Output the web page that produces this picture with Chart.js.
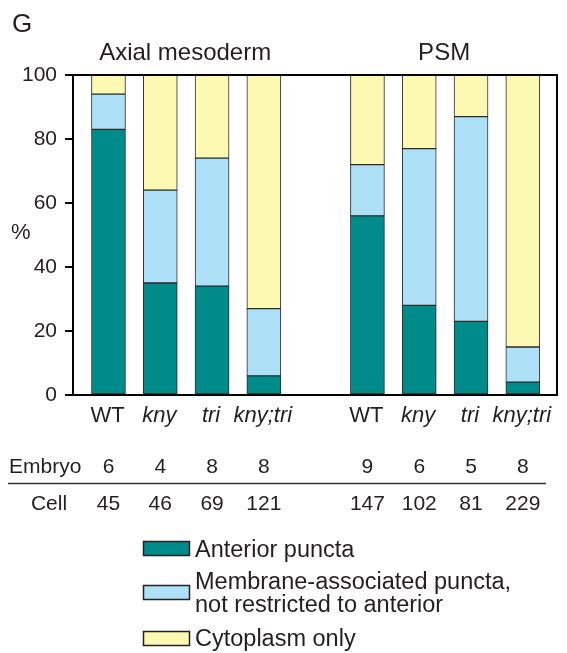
<!DOCTYPE html>
<html>
<head>
<meta charset="utf-8">
<script src="https://cdn.jsdelivr.net/npm/chart.js@4.4.1/dist/chart.umd.min.js"></script>
<style>
  html, body { margin: 0; padding: 0; background: #fff; }
  canvas { display: block; }
</style>
</head>
<body>
<canvas id="chart" width="567" height="653"></canvas>
<script>
// Localisation of the Wnt/PCP reporter, % of cells per class
const panelLetter = 'G';
const groupNames = ['Axial mesoderm', 'PSM'];
const barGroup = [0, 0, 0, 0, 1, 1, 1, 1];
const genotypes = ['WT', 'kny', 'tri', 'kny;tri', 'WT', 'kny', 'tri', 'kny;tri'];
const anteriorPuncta = [83, 35, 34, 6, 56, 28, 23, 4];
const membranePuncta = [11, 29, 40, 21, 16, 49, 64, 11];
const cytoplasmOnly = [6, 36, 26, 73, 28, 23, 13, 85];
const embryoCounts = [6, 4, 8, 8, 9, 6, 5, 8];
const cellCounts = [45, 46, 69, 121, 147, 102, 81, 229];
const yTicks = [0, 20, 40, 60, 80, 100];
const seriesNames = ['Anterior puncta', 'Membrane-associated puncta,\nnot restricted to anterior', 'Cytoplasm only'];

const FONT = '"Liberation Sans", Arial, Helvetica, sans-serif';
const INK = '#231f20';
const COLORS = ['#008b8b', '#aee0f8', '#fdf8b2'];

// one empty slot separates the two tissue groups
const barPos = genotypes.map((g, i) => i + barGroup[i]);

function series(values) {
  return values.map((v, i) => ({ x: barPos[i], y: v }));
}

const datasets = [anteriorPuncta, membranePuncta, cytoplasmOnly].map((vals, k) => ({
  label: seriesNames[k],
  data: series(vals),
  backgroundColor: COLORS[k],
  borderColor: '#2b2b2b',
  borderWidth: 1,
  borderSkipped: false,
  barThickness: 34
}));

const annotations = {
  id: 'annotations',
  afterDraw(chart) {
    const ctx = chart.ctx;
    const xs = chart.scales.x;
    const area = chart.chartArea;
    ctx.save();
    ctx.fillStyle = INK;
    ctx.strokeStyle = '#000';

    // frame around the plot
    ctx.lineWidth = 2;
    ctx.strokeRect(area.left, area.top, area.right - area.left, area.bottom - area.top);

    // panel letter
    ctx.textAlign = 'left';
    ctx.textBaseline = 'alphabetic';
    ctx.font = '26px ' + FONT;
    ctx.fillText(panelLetter, 12, 32);

    // group titles
    ctx.font = '24px ' + FONT;
    ctx.textAlign = 'center';
    groupNames.forEach((name, g) => {
      const px = barPos.filter((p, i) => barGroup[i] === g).map(p => xs.getPixelForValue(p));
      const cx = (Math.min(...px) + Math.max(...px)) / 2;
      ctx.fillText(name, cx - 1, 60);
    });

    // y axis title
    ctx.font = '22px ' + FONT;
    ctx.textAlign = 'left';
    ctx.fillText('%', 11, 239);

    // genotype labels
    ctx.textAlign = 'center';
    genotypes.forEach((g, i) => {
      ctx.font = (g === 'WT' ? '' : 'italic ') + '22px ' + FONT;
      ctx.fillText(g, xs.getPixelForValue(barPos[i]) - 1, 422);
    });

    // counts table
    ctx.font = '21px ' + FONT;
    ctx.textAlign = 'left';
    ctx.fillText('Embryo', 9, 473);
    ctx.textAlign = 'center';
    ctx.fillText('Cell', 49, 510);
    embryoCounts.forEach((n, i) => ctx.fillText(String(n), xs.getPixelForValue(barPos[i]), 473));
    cellCounts.forEach((n, i) => ctx.fillText(String(n), xs.getPixelForValue(barPos[i]), 510));
    ctx.lineWidth = 1.5;
    ctx.strokeStyle = '#333';
    ctx.beginPath();
    ctx.moveTo(8, 483.5);
    ctx.lineTo(546, 483.5);
    ctx.stroke();

    // legend
    const boxes = [541, 585, 631];
    const textLines = [[557], [589, 612], [646]];
    ctx.font = '23.5px ' + FONT;
    ctx.textAlign = 'left';
    chart.data.datasets.forEach((ds, k) => {
      ctx.fillStyle = ds.backgroundColor;
      ctx.fillRect(143, boxes[k], 47, 15);
      ctx.lineWidth = 1.5;
      ctx.strokeStyle = '#222';
      ctx.strokeRect(143.5, boxes[k] + 0.5, 46, 14);
      ctx.fillStyle = INK;
      ds.label.split('\n').forEach((line, j) => ctx.fillText(line, 195, textLines[k][j]));
    });
    ctx.restore();
  }
};

new Chart(document.getElementById('chart'), {
  type: 'bar',
  data: { datasets },
  options: {
    responsive: false,
    animation: false,
    layout: { padding: { left: 0, top: 75, right: 10, bottom: 258 } },
    plugins: { legend: { display: false }, tooltip: { enabled: false } },
    scales: {
      x: {
        type: 'linear',
        stacked: true,
        display: false,
        offset: false,
        min: -0.685,
        max: 8.66
      },
      y: {
        stacked: true,
        min: 0,
        max: 100,
        afterBuildTicks(scale) { scale.ticks = yTicks.map(v => ({ value: v })); },
        afterFit(scale) { scale.width = 73; },
        border: { display: true, color: '#000', width: 2 },
        grid: { drawOnChartArea: false, color: '#000', lineWidth: 2, tickLength: 8 },
        ticks: { color: INK, padding: 8, font: { family: FONT, size: 21 } }
      }
    }
  },
  plugins: [annotations]
});
</script>
</body>
</html>
